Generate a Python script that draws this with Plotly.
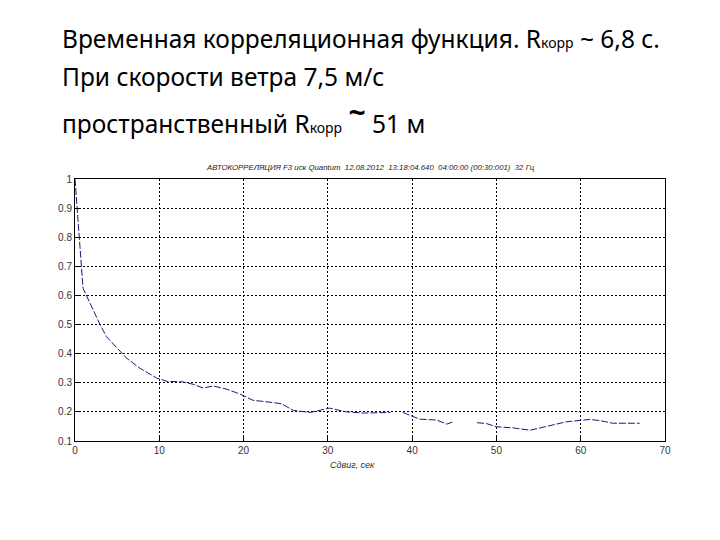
import plotly.graph_objects as go

# Data
lag_s = [0, 0.95, 2.0, 2.97, 3.75, 5.3, 6.1, 7.7, 9.7, 10.9, 12.8, 14.0, 15.2, 16.4, 18.0, 19.6,
         21.1, 23.5, 24.5, 25.9, 27.9, 30.2, 32.2, 34.2, 35.8, 37.4, None, 38.9, 40.9, 42.9, 44.1,
         44.9, None, 47.7, 48.8, 50.0, 50.8, 52.0, 54.0, 55.9, 58.3, 61.1, 62.3, 63.8, 65.4, 67.0]
acf = [1.0, 0.625, 0.56, 0.5, 0.458, 0.41, 0.385, 0.35, 0.316, 0.305, 0.303, 0.295, 0.282, 0.289,
       0.278, 0.261, 0.24, 0.232, 0.228, 0.205, 0.198, 0.213, 0.20, 0.196, 0.198, 0.198, None,
       0.198, 0.175, 0.172, 0.158, 0.166, None, 0.163, 0.16, 0.149, 0.147, 0.145, 0.137, 0.149,
       0.166, 0.174, 0.170, 0.161, 0.161, 0.161]
x_ticks = [0, 10, 20, 30, 40, 50, 60, 70]
y_ticks = [0.1, 0.2, 0.3, 0.4, 0.5, 0.6, 0.7, 0.8, 0.9, 1.0]
y_tick_labels = ["0.1", "0.2", "0.3", "0.4", "0.5", "0.6", "0.7", "0.8", "0.9", "1"]

chart_title = "АВТОКОРРЕЛЯЦИЯ F3 иск Quantum  12.08.2012  13:18:04.640  04:00:00 (00:30:001)  32 Гц"
x_label = "Сдвиг, сек"

fig = go.Figure()
fig.add_trace(go.Scatter(
    x=lag_s, y=acf, mode="lines",
    line=dict(color="#1a1a7a", width=1, dash="7px,2px"),
    connectgaps=False, showlegend=False, hoverinfo="skip"))

axis_common = dict(showline=True, linecolor="black", linewidth=1, mirror=True,
                   ticks="inside", ticklen=4, tickcolor="black",
                   showgrid=True, gridcolor="black", griddash="2px,2px", gridwidth=1,
                   zeroline=False, tickfont=dict(family="Liberation Sans", size=10, color="#333"))

fig.update_xaxes(range=[0, 70], tickvals=x_ticks, **axis_common)
fig.update_yaxes(range=[0.1, 1.0], tickvals=y_ticks, ticktext=y_tick_labels, **axis_common)

PL, PT, PW, PH = 67, 171, 590, 262  # plot area (page offset of 8px accounted)

head_font = dict(family="Noto Sans", size=24.5, color="black")
small = "<span style='font-size:14px'>корр</span>"
hx = (52 - PL) / PW
fig.add_annotation(xref="paper", yref="paper", x=hx, y=1.0, xanchor="left", yanchor="middle",
                   yshift=PT - 30, showarrow=False, font=head_font,
                   text="Временная корреляционная функция. R" + small + " ~ 6,8 с.")
fig.add_annotation(xref="paper", yref="paper", x=hx, y=1.0, xanchor="left", yanchor="middle",
                   yshift=PT - 68, showarrow=False, font=head_font,
                   text="При скорости ветра 7,5 м/с")
fig.add_annotation(xref="paper", yref="paper", x=hx, y=1.0, xanchor="left", yanchor="middle",
                   yshift=PT - 107, showarrow=False, font=head_font,
                   text="пространственный R" + small + " <sup><span style='font-size:30px'><b>~</b></span></sup> 51 м")
fig.add_annotation(xref="paper", yref="paper", x=(370 - 8 - PL) / PW, y=1.0, xanchor="center", yanchor="middle",
                   yshift=12, showarrow=False,
                   font=dict(family="Liberation Sans", size=7.8, color="#222"),
                   text="<i>" + chart_title + "</i>")
fig.add_annotation(xref="paper", yref="paper", x=(352 - 8 - PL) / PW, y=0, xanchor="center", yanchor="middle",
                   yshift=-24, showarrow=False,
                   font=dict(family="Liberation Sans", size=9, color="#333"),
                   text="<i>" + x_label + "</i>")

fig.update_layout(width=720, height=540,
                  margin=dict(l=PL, r=720 - PL - PW, t=PT, b=540 - PT - PH),
                  plot_bgcolor="white", paper_bgcolor="white")

fig.write_html("out.html")
